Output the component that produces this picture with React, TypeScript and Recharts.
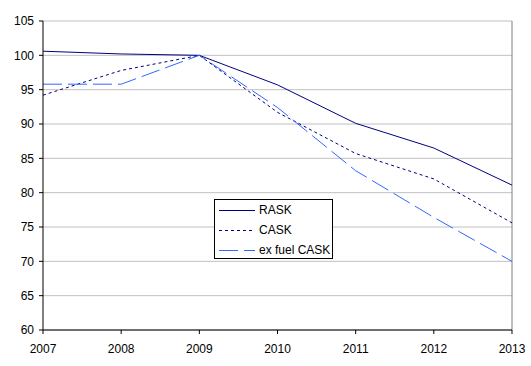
import React from 'react';
import { LineChart, Line, XAxis, YAxis, CartesianGrid, ReferenceLine } from 'recharts';

const years = [2007, 2008, 2009, 2010, 2011, 2012, 2013];
const rask = [100.6, 100.2, 100.0, 95.7, 90.1, 86.5, 81.1];
const cask = [94.2, 97.8, 100.0, 91.7, 85.7, 82.0, 75.6];
const exFuelCask = [95.8, 95.8, 100.0, 92.4, 83.2, 76.4, 70.0];
const yTicks = [60, 65, 70, 75, 80, 85, 90, 95, 100, 105];

const seriesNames = ['RASK', 'CASK', 'ex fuel CASK'];

const data = years.map((y, i) => ({
  year: y,
  RASK: rask[i],
  CASK: cask[i],
  'ex fuel CASK': exFuelCask[i],
}));

const FONT = '"Liberation Sans", Arial, sans-serif';

const styles: Record<string, { stroke: string; dash?: string }> = {
  RASK: { stroke: '#000080' },
  CASK: { stroke: '#000080', dash: '3 3' },
  'ex fuel CASK': { stroke: '#3366FF', dash: '19 6' },
};

const LegendBox = () => (
  <div
    style={{
      position: 'absolute',
      left: 214,
      top: 199,
      width: 117,
      height: 58,
      border: '1px solid #000',
      background: '#fff',
      fontFamily: FONT,
      fontSize: 12,
      color: '#000',
    }}
  >
    {seriesNames.map((n, i) => (
      <div key={n} style={{ position: 'absolute', left: 0, top: 2 + i * 20, height: 16, width: 117 }}>
        <svg width={44} height={16} style={{ position: 'absolute', left: 0, top: 0 }}>
          <line x1={4} y1={8.5} x2={40} y2={8.5} stroke={styles[n].stroke} strokeWidth={1} strokeDasharray={styles[n].dash} />
        </svg>
        <span style={{ position: 'absolute', left: 44, top: 1, lineHeight: '14px', whiteSpace: 'nowrap' }}>{n}</span>
      </div>
    ))}
  </div>
);

export default function App() {
  return (
    <div style={{ position: 'absolute', left: 0, top: 0, width: 531, height: 366, background: '#fff' }}>
      <LineChart width={531} height={366} data={data} margin={{ top: 21, right: 19, left: 0, bottom: 0 }}>
        <CartesianGrid horizontal={true} vertical={false} stroke="#C0C0C0" strokeWidth={1} />
        <ReferenceLine x={2013} stroke="#808080" strokeWidth={1} />
        <XAxis
          dataKey="year"
          type="number"
          domain={[2007, 2013]}
          ticks={years}
          height={36}
          tickSize={4}
          tickMargin={10}
          axisLine={{ stroke: '#000' }}
          tickLine={{ stroke: '#000' }}
          tick={{ fill: '#000', fontSize: 12, fontFamily: FONT }}
          interval={0}
        />
        <YAxis
          type="number"
          domain={[60, 105]}
          ticks={yTicks}
          width={43}
          tickSize={4}
          tickMargin={5}
          axisLine={{ stroke: '#000' }}
          tickLine={{ stroke: '#000' }}
          tick={{ fill: '#000', fontSize: 12, fontFamily: FONT }}
          interval={0}
        />
        {seriesNames.map((n) => (
          <Line
            key={n}
            type="linear"
            dataKey={n}
            stroke={styles[n].stroke}
            strokeWidth={1}
            strokeDasharray={styles[n].dash}
            dot={false}
            activeDot={false}
            isAnimationActive={false}
          />
        ))}
      </LineChart>
      <LegendBox />
    </div>
  );
}
